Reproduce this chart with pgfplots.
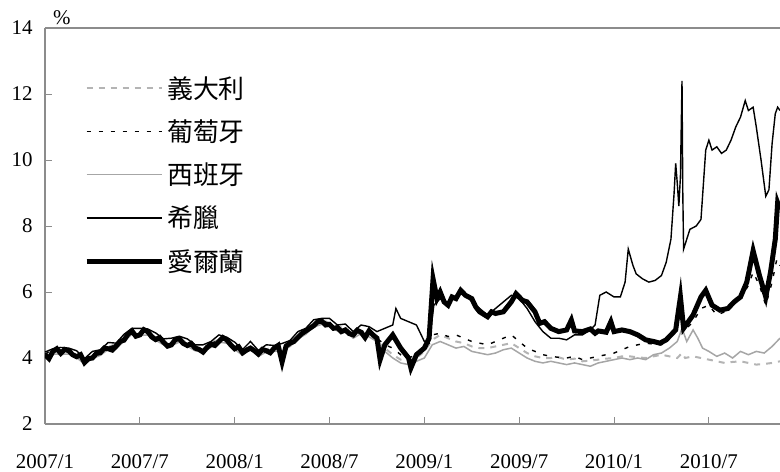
\documentclass[border=0pt]{standalone}
\usepackage{pgfplots}
\pgfplotsset{compat=1.18}
\usepackage{pgfplotstable}
\usepackage{fontspec}
\setmainfont{Liberation Serif}
\newfontfamily\cjk{Noto Sans CJK TC}
\definecolor{axgray}{HTML}{8C8C8C}
\definecolor{itagray}{HTML}{B4B4B4}
\definecolor{espgray}{HTML}{A6A6A6}

% months since 2007/1 ; yield in %
\pgfplotstableread{
m v
0 4.14
0.5 4.25
1 4.19
1.5 4.26
2 4.09
2.5 3.96
3 4.06
3.5 4.22
4 4.34
4.5 4.42
5 4.59
5.5 4.86
6 4.76
6.5 4.84
7 4.62
7.5 4.54
8 4.46
8.5 4.62
9 4.44
9.5 4.36
10 4.26
10.5 4.46
11 4.56
11.5 4.59
12 4.34
12.5 4.22
13 4.36
13.5 4.19
14 4.26
14.5 4.34
15 4.30
15.5 4.49
16 4.66
16.5 4.86
17 5.02
17.5 5.16
18 5.06
18.5 4.96
19 4.89
19.5 4.74
20 4.82
20.5 4.76
21 4.50
21.5 4.30
22 4.10
22.5 3.95
23 3.90
23.5 4.00
24 4.20
24.5 4.55
25 4.70
25.5 4.60
26 4.50
26.5 4.45
27 4.35
27.5 4.30
28 4.30
28.5 4.35
29 4.40
29.5 4.45
30 4.30
30.5 4.15
31 4.05
31.5 4.00
32 4.00
32.5 4.02
33 3.95
33.5 3.98
34 3.90
34.5 3.92
35 3.95
35.5 3.98
36 4.00
36.5 4.05
37 4.05
37.5 4.02
38 4.00
38.5 4.05
39 4.10
39.5 4.05
40 4.00
40.3 4.15
40.5 4.00
41 4.05
41.5 4.00
42 3.95
42.5 3.90
43 3.85
43.5 3.88
44 3.90
44.5 3.85
45 3.80
45.5 3.82
46 3.85
46.5 3.90
}\ita

\pgfplotstableread{
m v
0 4.12
0.5 4.24
1 4.17
1.5 4.24
2 4.07
2.5 3.94
3 4.04
3.5 4.20
4 4.32
4.5 4.40
5 4.57
5.5 4.84
6 4.74
6.5 4.82
7 4.60
7.5 4.52
8 4.44
8.5 4.60
9 4.42
9.5 4.34
10 4.24
10.5 4.44
11 4.54
11.5 4.57
12 4.32
12.5 4.20
13 4.34
13.5 4.17
14 4.24
14.5 4.32
15 4.28
15.5 4.47
16 4.64
16.5 4.84
17 5.00
17.5 5.14
18 5.04
18.5 4.94
19 4.87
19.5 4.72
20 4.80
20.5 4.82
21 4.60
21.5 4.40
22 4.30
22.5 4.10
23 4.00
23.5 4.10
24 4.30
24.5 4.70
25 4.75
25.5 4.65
26 4.70
26.5 4.60
27 4.50
27.5 4.45
28 4.40
28.5 4.50
29 4.60
29.5 4.70
30 4.50
30.5 4.30
31 4.20
31.5 4.10
32 4.05
32.5 4.02
33 4.00
33.5 4.05
34 3.95
34.5 4.00
35 4.05
35.5 4.10
36 4.15
36.5 4.25
37 4.35
37.5 4.40
38 4.45
38.5 4.42
39 4.40
39.5 4.60
40 5.00
40.2 6.20
40.4 4.80
41 5.10
41.5 5.50
42 5.60
42.5 5.30
43 5.40
43.5 5.60
44 5.80
44.5 6.20
44.8 6.60
45.2 6.20
45.6 5.60
46 6.30
46.3 7.00
46.5 6.80
}\por

\pgfplotstableread{
m v
0 4.06
0.5 4.12
1 4.11
1.5 4.12
2 4.01
2.5 3.82
3 3.98
3.5 4.08
4 4.26
4.5 4.28
5 4.51
5.5 4.72
6 4.68
6.5 4.70
7 4.54
7.5 4.40
8 4.38
8.5 4.48
9 4.36
9.5 4.22
10 4.18
10.5 4.32
11 4.48
11.5 4.45
12 4.26
12.5 4.08
13 4.28
13.5 4.05
14 4.18
14.5 4.20
15 4.22
15.5 4.35
16 4.58
16.5 4.72
17 4.94
17.5 5.02
18 4.98
18.5 4.82
19 4.81
19.5 4.60
20 4.74
20.5 4.64
21 4.50
21.5 4.20
22 4.00
22.5 3.85
23 3.80
23.5 3.90
24 4.00
24.5 4.40
25 4.50
25.5 4.40
26 4.30
26.5 4.35
27 4.20
27.5 4.15
28 4.10
28.5 4.15
29 4.25
29.5 4.30
30 4.15
30.5 4.00
31 3.90
31.5 3.85
32 3.90
32.5 3.85
33 3.80
33.5 3.85
34 3.80
34.5 3.75
35 3.85
35.5 3.90
36 3.95
36.5 4.00
37 3.95
37.5 4.00
38 3.95
38.5 4.10
39 4.15
39.5 4.30
40 4.50
40.3 4.90
40.6 4.50
41 4.85
41.3 4.60
41.6 4.30
42 4.20
42.5 4.05
43 4.15
43.5 4.00
44 4.20
44.5 4.10
45 4.20
45.5 4.15
46 4.35
46.5 4.60
}\esp

\pgfplotstableread{
m v
0 4.18
0.5 4.28
1 4.32
1.5 4.30
2 4.22
2.5 3.98
3 4.20
3.5 4.25
4 4.47
4.5 4.45
5 4.72
5.5 4.90
6 4.90
6.5 4.88
7 4.76
7.5 4.58
8 4.60
8.5 4.66
9 4.58
9.5 4.40
10 4.40
10.5 4.50
11 4.70
11.5 4.63
12 4.48
12.5 4.26
13 4.50
13.5 4.23
14 4.40
14.5 4.38
15 4.44
15.5 4.53
16 4.80
16.5 4.90
17 5.16
17.5 5.20
18 5.20
18.5 5.00
19 5.03
19.5 4.80
20 5.00
20.5 4.95
21 4.80
21.5 4.90
22 5.00
22.2 5.50
22.5 5.20
23 5.10
23.5 5.00
24 4.50
24.3 4.45
24.6 5.60
25 5.80
25.5 5.60
26 5.90
26.5 6.00
27 5.70
27.5 5.50
28 5.30
28.5 5.50
29 5.70
29.5 5.90
30 5.80
30.5 5.50
31 5.10
31.5 4.80
32 4.60
32.5 4.60
33 4.55
33.5 4.70
34 4.70
34.5 4.85
34.8 5.00
35.1 5.90
35.5 6.00
36 5.85
36.4 5.85
36.7 6.30
36.9 7.30
37.2 6.80
37.4 6.55
37.8 6.40
38.2 6.30
38.6 6.35
39.0 6.50
39.3 6.90
39.6 7.60
39.8 9.00
39.9 9.90
40.0 9.30
40.1 8.60
40.2 9.50
40.3 12.40
40.35 9.00
40.4 7.30
40.6 7.60
40.8 7.90
41.2 8.00
41.5 8.20
41.8 10.30
42.0 10.60
42.2 10.30
42.5 10.40
42.8 10.20
43.1 10.30
43.4 10.60
43.7 11.00
44.0 11.30
44.3 11.80
44.5 11.50
44.8 11.60
45.0 11.00
45.3 10.00
45.6 8.90
45.8 9.10
46.0 10.50
46.2 11.40
46.35 11.60
46.5 11.50
}\gre

\pgfplotstableread{
m v
0 4.10
0.25 3.98
0.5 4.20
0.75 4.28
1 4.14
1.25 4.26
1.5 4.22
1.75 4.10
2 4.04
2.25 4.10
2.5 3.86
2.75 3.98
3 4.00
3.25 4.14
3.5 4.16
3.75 4.30
4 4.28
4.25 4.24
4.5 4.36
4.75 4.50
5 4.54
5.25 4.72
5.5 4.82
5.75 4.66
6 4.70
6.25 4.86
6.5 4.80
6.75 4.64
7 4.56
7.25 4.62
7.5 4.48
7.75 4.36
8 4.40
8.25 4.56
8.5 4.58
8.75 4.44
9 4.38
9.25 4.44
9.5 4.30
9.75 4.26
10 4.18
10.25 4.32
10.5 4.42
10.75 4.38
11 4.50
11.25 4.62
11.5 4.55
11.75 4.40
12 4.28
12.25 4.34
12.5 4.16
12.75 4.24
13 4.30
13.25 4.22
13.5 4.12
13.75 4.26
14 4.22
14.25 4.16
14.5 4.30
14.75 4.38
15 3.88
15.25 4.36
15.5 4.45
15.75 4.50
16 4.62
16.25 4.74
16.5 4.82
16.75 4.90
17 4.98
17.25 5.10
17.5 5.12
17.75 5.00
18 5.02
18.25 4.90
18.5 4.92
18.75 4.80
19 4.85
19.25 4.74
19.5 4.70
19.75 4.84
20 4.78
20.25 4.62
20.5 4.82
20.75 4.70
21 4.60
21.2 3.95
21.5 4.40
22 4.70
22.5 4.30
23 4.00
23.15 3.70
23.5 4.10
24 4.30
24.3 4.60
24.55 6.40
24.8 5.80
25 6.00
25.25 5.70
25.5 5.60
25.75 5.85
26 5.80
26.3 6.05
26.6 5.90
27 5.80
27.25 5.55
27.5 5.40
28 5.25
28.25 5.40
28.5 5.35
29 5.40
29.5 5.70
29.8 5.95
30.2 5.75
30.5 5.70
31 5.40
31.3 5.05
31.6 5.10
32 4.90
32.5 4.80
33 4.85
33.3 5.15
33.5 4.82
34 4.80
34.5 4.88
34.8 4.75
35 4.82
35.5 4.78
35.8 5.10
36 4.80
36.5 4.85
37 4.80
37.5 4.70
38 4.55
38.5 4.50
38.9 4.45
39.3 4.55
39.6 4.70
39.9 4.85
40.2 5.85
40.4 4.90
40.7 5.10
41 5.30
41.5 5.85
41.8 6.05
42.2 5.60
42.7 5.45
43.2 5.50
43.6 5.70
44 5.85
44.4 6.30
44.8 7.25
45.2 6.50
45.6 5.85
45.9 6.60
46.2 7.60
46.35 8.70
46.5 8.50
}\ire

\begin{document}
\begin{tikzpicture}
\useasboundingbox (-45bp,-48bp) rectangle (735bp,424bp);
\begin{axis}[
  name=ax,
  at={(0,0)}, anchor=south west,
  scale only axis, width=735bp, height=396bp,
  xmin=0, xmax=46.5, ymin=2, ymax=14,
  axis x line*=box, axis y line*=left,
  axis line style={axgray, line width=1.2bp},
  xtick={0,6,...,42},
  xticklabels={2007/1,2007/7,2008/1,2008/7,2009/1,2009/7,2010/1,2010/7},
  ytick={2,4,...,14},
  xtick pos=left, ytick pos=left,
  xtick align=inside, ytick align=inside,
  major tick length=7bp,
  tick style={axgray, line width=0.8bp},
  ticklabel style={font=\fontsize{21}{21}\selectfont, text=black},
  /pgf/number format/assume math mode=true,
  yticklabel style={xshift=-9bp},
  xticklabel style={yshift=-27bp},
  legend style={draw=none, fill=none, at={(rel axis cs:0.053,0.886)}, anchor=north west,
    font=\cjk\fontsize{26}{28}\selectfont, row sep=14bp, inner sep=0pt,
    nodes={inner sep=3bp}},
  legend cell align=left,
  legend image code/.code={\draw[#1] (0bp,0bp) -- (75bp,0bp);},
]
\addplot[itagray, line width=2bp, dash pattern=on 6bp off 6bp] table[x=m,y=v]{\ita};
\addlegendentry{義大利}
\addplot[black, line width=1.4bp, dash pattern=on 4bp off 8bp] table[x=m,y=v]{\por};
\addlegendentry{葡萄牙}
\addplot[espgray, line width=1.5bp] table[x=m,y=v]{\esp};
\addlegendentry{西班牙}
\addplot[black, line width=1.4bp] table[x=m,y=v]{\gre};
\addlegendentry{希臘}
\addplot[black, line width=5bp] table[x=m,y=v]{\ire};
\addlegendentry{愛爾蘭}
\end{axis}
\node[anchor=south west, inner sep=0pt, font=\fontsize{21}{21}\selectfont] at ([xshift=8bp,yshift=3bp]ax.north west) {\%};
\end{tikzpicture}
\end{document}
